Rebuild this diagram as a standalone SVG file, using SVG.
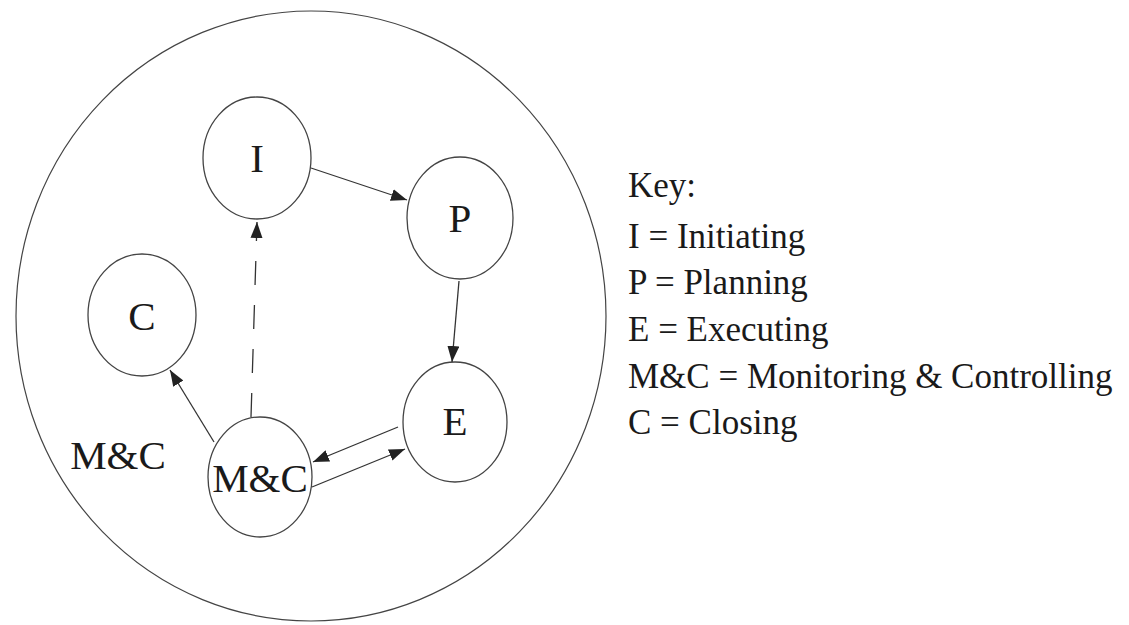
<svg xmlns="http://www.w3.org/2000/svg" width="1129" height="625" viewBox="0 0 1129 625">
  <style>
    .ring { fill: none; stroke: #444; stroke-width: 1.2; }
    .node ellipse { fill: #fff; stroke: #444; stroke-width: 1.3; }
    .lbl { font-family: "Liberation Serif", "Times New Roman", serif; font-size: 41px; fill: #1a1a1a; text-anchor: middle; }
    .key { font-family: "Liberation Serif", "Times New Roman", serif; font-size: 35px; fill: #1a1a1a; }
    .edge { stroke: #333; stroke-width: 1.3; fill: none; marker-end: url(#head); }
    .dash { stroke-dasharray: 24 20; }
  </style>
  <defs>
    <marker id="head" markerUnits="userSpaceOnUse" markerWidth="16" markerHeight="12" refX="16" refY="6" orient="auto">
      <path d="M0,0 L16,6 L0,12 z" fill="#222"/>
    </marker>
  </defs>

  <rect width="1129" height="625" fill="#fff"/>

  <!-- outer boundary: the monitoring & controlling scope -->
  <g id="scope">
    <ellipse class="ring" cx="311" cy="316" rx="295" ry="305"/>
    <text class="lbl" x="118" y="469">M&amp;C</text>
  </g>

  <g id="node-I" class="node">
    <ellipse cx="257" cy="158" rx="54" ry="61"/>
    <text class="lbl" x="257" y="172">I</text>
  </g>
  <g id="node-P" class="node">
    <ellipse cx="460" cy="218" rx="53" ry="61"/>
    <text class="lbl" x="460" y="232">P</text>
  </g>
  <g id="node-C" class="node">
    <ellipse cx="142" cy="315" rx="54" ry="61"/>
    <text class="lbl" x="142" y="330">C</text>
  </g>
  <g id="node-E" class="node">
    <ellipse cx="455" cy="422" rx="52" ry="60"/>
    <text class="lbl" x="455" y="435">E</text>
  </g>
  <g id="node-MC" class="node">
    <ellipse cx="260" cy="477" rx="52" ry="60"/>
    <text class="lbl" x="260" y="492">M&amp;C</text>
  </g>

  <g id="connectors">
    <line class="edge" x1="311" y1="168" x2="407" y2="200"/>
    <line class="edge" x1="459" y1="281" x2="452" y2="362"/>
    <line class="edge" x1="214" y1="442" x2="170" y2="370"/>
    <line class="edge" x1="398" y1="427" x2="313" y2="462"/>
    <line class="edge" x1="312" y1="487" x2="405" y2="449"/>
    <line class="edge dash" x1="251" y1="417" x2="257" y2="222"/>
  </g>

  <g id="legend">
    <text class="key" x="628" y="197">Key:</text>
    <text class="key" x="628" y="248">I = Initiating</text>
    <text class="key" x="628" y="294">P = Planning</text>
    <text class="key" x="628" y="341">E = Executing</text>
    <text class="key" x="628" y="388">M&amp;C = Monitoring &amp; Controlling</text>
    <text class="key" x="628" y="434">C = Closing</text>
  </g>
</svg>
